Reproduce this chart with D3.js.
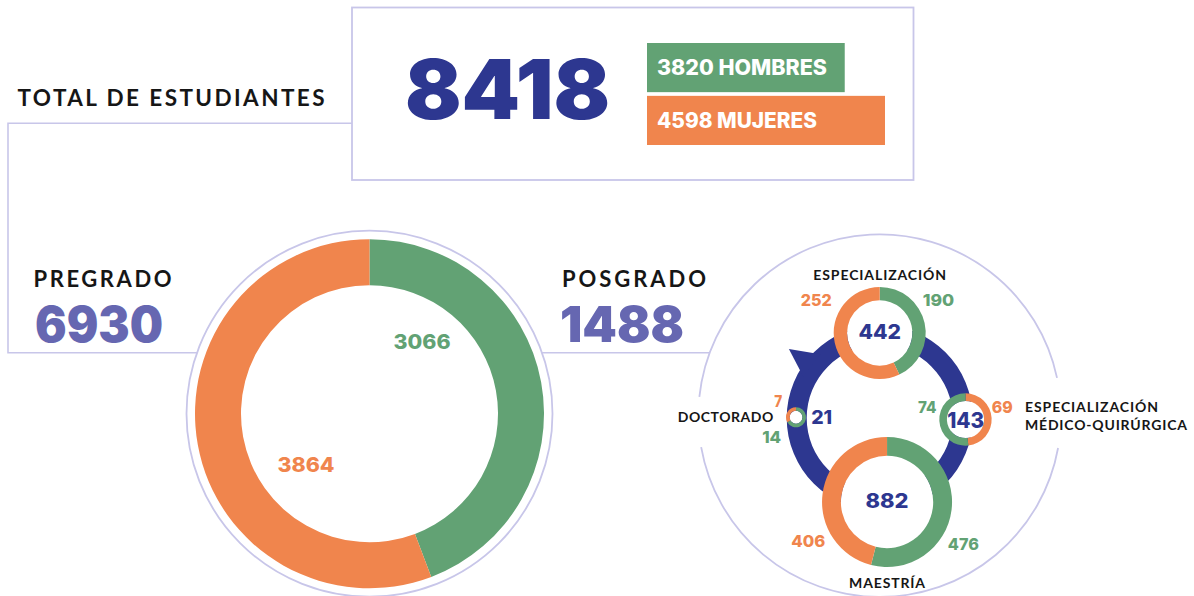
<!DOCTYPE html>
<html><head><meta charset="utf-8">
<script src="https://cdn.jsdelivr.net/npm/d3@7"></script>
<style>
body{margin:0;background:#fff}
svg{display:block}
text{font-family:Lato,"Open Sans",sans-serif}
text.num{font-family:Inter,Roboto,Lato,sans-serif}
</style>
</head><body>
<svg id="chart" width="1194" height="596"></svg>
<script>
// ---------------- DATA ----------------
const totalStudents = 8418;
const totalLabel = "TOTAL DE ESTUDIANTES";
const genderNames = ["HOMBRES", "MUJERES"];
const genderTotals = [3820, 4598];
const levelNames = ["PREGRADO", "POSGRADO"];
const levelTotals = [6930, 1488];
const pregradoSplit = [3066, 3864];          // hombres, mujeres
const programNames = ["ESPECIALIZACIÓN", "ESPECIALIZACIÓN MÉDICO-QUIRÚRGICA", "MAESTRÍA", "DOCTORADO"];
const programMen = [190, 74, 476, 14];
const programWomen = [252, 69, 406, 7];
const programTotals = [442, 143, 882, 21];

// ---------------- STYLE / LAYOUT ----------------
const C = {
  green: "#62a274", orange: "#f0854d", blue: "#2d3790",
  lav: "#6667b1", line: "#c8c6e9", ink: "#161616"
};
const svg = d3.select("#chart");

function txt(x, y, s, o) {
  const t = svg.append("text").attr("x", x).attr("y", y).text(s)
    .attr("font-size", o.size).attr("font-weight", o.weight || 700)
    .attr("fill", o.fill || C.ink).attr("text-anchor", o.anchor || "start");
  if (o.num) t.attr("class", "num");
  if (o.ls) t.attr("letter-spacing", o.ls);
  if (o.w) t.attr("textLength", o.w).attr("lengthAdjust", o.num ? "spacingAndGlyphs" : "spacing");
  return t;
}

// connector lines
const pre = {cx: 369.5, cy: 413.7, r0: 128.5, r1: 174.5, ro: 183};
const pos = {cx: 879.7, cy: 418, ringIn: 73, ringOut: 93, ocy: 415.6, ro: 181.3};
const box = {x: 352, y: 7.5, w: 561.5, h: 172.5};
const lineY = 352.7;
const preEdge = Math.sqrt(pre.ro * pre.ro - (lineY - pre.cy) ** 2);
const posEdge = Math.sqrt(pos.ro * pos.ro - (lineY - pos.ocy) ** 2);

svg.append("path")
  .attr("d", `M${box.x},123.3H8V${lineY}H${pre.cx - preEdge}M${pre.cx + preEdge},${lineY}H${pos.cx - posEdge}`)
  .attr("fill", "none").attr("stroke", C.line).attr("stroke-width", 1.6);

svg.append("rect").attr("x", box.x).attr("y", box.y).attr("width", box.w).attr("height", box.h)
  .attr("fill", "none").attr("stroke", C.line).attr("stroke-width", 1.8);

// ---------------- HEADER ----------------
txt(17.5, 106, totalLabel, {size: 22.5, weight: 700, w: 307});
txt(405, 119, d3.format("d")(totalStudents), {size: 83, weight: 900, fill: C.blue, num: true, w: 205});

const gx = d3.scaleLinear().domain([0, d3.max(genderTotals)]).range([0, 238]);
const gColors = [C.green, C.orange];
const gW = [170, 160];
const gY = d3.scaleBand().domain(genderNames).range([43, 145]).paddingInner(0.07);
genderNames.forEach((g, i) => {
  svg.append("rect").attr("x", 647).attr("y", gY(g))
    .attr("width", gx(genderTotals[i])).attr("height", gY.bandwidth()).attr("fill", gColors[i]);
  txt(657, gY(g) + gY.bandwidth() / 2 + 7.6, `${genderTotals[i]} ${g}`, {size: 21, weight: 800, fill: "#fff", num: true, w: gW[i]});
});

// level titles
txt(33.5, 287.3, levelNames[0], {size: 22, weight: 700, w: 138});
txt(35, 342, levelTotals[0], {size: 49, weight: 900, fill: C.lav, num: true, w: 128});
txt(562, 287.3, levelNames[1], {size: 22, weight: 700, w: 144});
txt(560, 342, levelTotals[1], {size: 49, weight: 900, fill: C.lav, num: true, w: 124});

// ---------------- PREGRADO DONUT ----------------
const pie = d3.pie().sort(null).value(d => d.v);
svg.append("circle").attr("cx", pre.cx).attr("cy", pre.cy).attr("r", pre.ro)
  .attr("fill", "none").attr("stroke", C.line).attr("stroke-width", 1.8);
const preArc = d3.arc().innerRadius(pre.r0).outerRadius(pre.r1);
const preData = [{v: pregradoSplit[0], c: C.green}, {v: pregradoSplit[1], c: C.orange}];
const preG = svg.append("g").attr("transform", `translate(${pre.cx},${pre.cy})`);
preG.selectAll("path").data(pie(preData)).join("path").attr("d", preArc).attr("fill", d => d.data.c);
const preLabelPos = [[52.5, -64.7], [-63.5, 58]];
preData.forEach((d, i) => {
  txt(pre.cx + preLabelPos[i][0], pre.cy + preLabelPos[i][1], d.v,
    {size: 20, weight: 800, fill: d.c, anchor: "middle", num: true, w: 57});
});

// ---------------- POSGRADO ----------------
// outline with gaps for the side labels
const op = d3.path();
const deg = Math.PI / 180;
op.arc(pos.cx, pos.ocy, pos.ro, 10.3 * deg, 170 * deg);
op.moveTo(pos.cx + pos.ro * Math.cos(185.9 * deg), pos.ocy + pos.ro * Math.sin(185.9 * deg));
op.arc(pos.cx, pos.ocy, pos.ro, 185.9 * deg, 348 * deg);
svg.append("path").attr("d", op.toString()).attr("fill", "none").attr("stroke", C.line).attr("stroke-width", 1.8);

const posG = svg.append("g").attr("transform", `translate(${pos.cx},${pos.cy})`);
// cycle ring
posG.append("path").attr("d", d3.arc().innerRadius(pos.ringIn).outerRadius(pos.ringOut)
  .startAngle(0).endAngle(2 * Math.PI)()).attr("fill", C.blue);
// arrow barb
const polar = (r, a) => [r * Math.sin(a * deg), -r * Math.cos(a * deg)];
posG.append("path").attr("d", d3.line()([polar(pos.ringOut - 6, -43), polar(114, -52.8), polar(pos.ringOut - 6, -61.5)]))
  .attr("fill", C.blue);

// sub donuts
const rScale = d3.scaleSqrt().domain([0, d3.max(programTotals)]).range([0, 65]);
const placeAngle = [0, 91, 175, 270.5];
const placeDist = [85, 85.8, 84.3, 83.7];
const womenFirst = [false, true, false, false];
const valueLabelOff = [
  [[58.8, -27], [-63.5, -27]],
  [[-38.2, -6.7], [36.8, -6.7]],
  [[76.3, 48], [-78.7, 44.7]],
  [[-24.3, 26], [-17.7, -10.6]]
];
const valueW = [[31.5, 31], [18.5, 21], [31, 34], [19, 8]];
const totalOff = [[0, 5.6], [0.2, 8.3], [0, 6.5], [25.7, 6.7]];
const totalW = [42.5, 37, 43, 21];
const totalSize = [20, 21, 20, 19];

programNames.forEach((name, i) => {
  const [dx, dy] = polar(placeDist[i], placeAngle[i]);
  const cx = pos.cx + dx, cy = pos.cy + dy;
  const R = rScale(programTotals[i]);
  const r = R * (i === 3 ? 0.64 : 0.71);
  const men = {v: programMen[i], c: C.green}, women = {v: programWomen[i], c: C.orange};
  const d = womenFirst[i] ? [women, men] : [men, women];
  const g = svg.append("g").attr("transform", `translate(${cx},${cy})`);
  g.append("circle").attr("r", r).attr("fill", "#fff");
  g.selectAll("path").data(pie(d)).join("path")
    .attr("d", d3.arc().innerRadius(r).outerRadius(R)).attr("fill", p => p.data.c);
  // value labels: [men, women]
  [men, women].forEach((m, k) => {
    txt(cx + valueLabelOff[i][k][0], cy + valueLabelOff[i][k][1], m.v,
      {size: 16.5, weight: 800, fill: m.c, anchor: "middle", num: true, w: valueW[i][k]});
  });
  txt(cx + totalOff[i][0], cy + totalOff[i][1], programTotals[i],
    {size: totalSize[i], weight: 800, fill: C.blue, anchor: "middle", num: true, w: totalW[i]});
});

// program titles
const esp = polar(85, 0), med = polar(85.8, 91), mae = polar(84.3, 175), doc = polar(83.7, 270.5);
txt(pos.cx + esp[0], pos.cy + esp[1] - 53, programNames[0], {size: 14, weight: 700, anchor: "middle", w: 132.7});
const medParts = programNames[1].split(" ");
const medW = [133, 162];
const mt = svg.append("text").attr("font-size", 14).attr("font-weight", 700).attr("fill", C.ink);
medParts.forEach((p, k) => mt.append("tspan").attr("x", pos.cx + med[0] + 59.5)
  .attr("y", pos.cy + med[1] - 7.7 + k * 18.2).attr("textLength", medW[k]).attr("lengthAdjust", "spacing").text(p));
txt(pos.cx + mae[0], pos.cy + mae[1] + 86.3, programNames[2], {size: 14, weight: 700, anchor: "middle", w: 76});
txt(pos.cx + doc[0] - 22.7, pos.cy + doc[1] + 4.4, programNames[3], {size: 14, weight: 700, anchor: "end", w: 95.6});
</script>
</body></html>
